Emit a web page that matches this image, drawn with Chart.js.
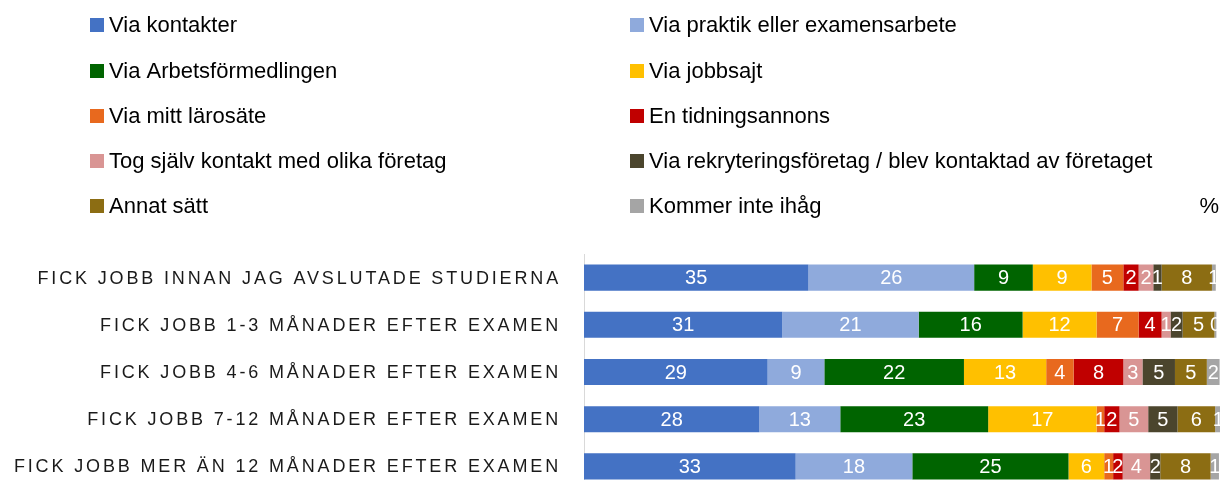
<!DOCTYPE html>
<html>
<head>
<meta charset="utf-8">
<script src="https://cdn.jsdelivr.net/npm/chart.js@4/dist/chart.umd.min.js"></script>
<style>
  html, body { margin: 0; padding: 0; background: #fff; overflow: hidden; }
  #wrap { width: 1230px; height: 490px; }
</style>
</head>
<body>
<div id="wrap"><canvas id="jobChart" width="1230" height="490"></canvas></div>
<script>
// categories (top to bottom)
const categories = [
  'FICK JOBB INNAN JAG AVSLUTADE STUDIERNA',
  'FICK JOBB 1-3 MÅNADER EFTER EXAMEN',
  'FICK JOBB 4-6 MÅNADER EFTER EXAMEN',
  'FICK JOBB 7-12 MÅNADER EFTER EXAMEN',
  'FICK JOBB MER ÄN 12 MÅNADER EFTER EXAMEN'
];

const seriesNames = [
  'Via kontakter',
  'Via praktik eller examensarbete',
  'Via Arbetsförmedlingen',
  'Via jobbsajt',
  'Via mitt lärosäte',
  'En tidningsannons',
  'Tog själv kontakt med olika företag',
  'Via rekryteringsföretag / blev kontaktad av företaget',
  'Annat sätt',
  'Kommer inte ihåg'
];

const seriesColors = [
  '#4472C4', '#8FAADC', '#006400', '#FFC000', '#E8691E',
  '#C00000', '#D99594', '#4B452D', '#8C6D13', '#A5A5A5'
];

// percent values per series, one per category (labels show rounded values)
const viaKontakter   = [35.2, 31.1, 28.8, 27.5, 33.2];
const viaPraktik     = [26.0, 21.4, 8.9, 12.7, 18.3];
const viaAF          = [9.2, 16.3, 21.9, 23.2, 24.5];
const viaJobbsajt    = [9.2, 11.6, 12.9, 17.0, 5.6];
const viaLarosate    = [5.0, 6.6, 4.3, 1.2, 1.4];
const tidningsannons = [2.4, 3.6, 7.8, 2.4, 1.5];
const togSjalv       = [2.3, 1.4, 3.0, 4.5, 4.3];
const viaRekrytering = [1.3, 1.9, 5.1, 4.6, 1.6];
const annatSatt      = [7.9, 5.0, 5.0, 5.9, 7.9];
const kommerInte     = [0.6, 0.3, 2.0, 1.0, 1.3];

const seriesValues = [viaKontakter, viaPraktik, viaAF, viaJobbsajt, viaLarosate,
  tidningsannons, togSjalv, viaRekrytering, annatSatt, kommerInte];

const FONT = '"Liberation Sans", Arial, sans-serif';

// legend, category labels, value labels
const overlay = {
  id: 'overlay',
  afterDatasetsDraw(chart) {
    const ctx = chart.ctx;
    ctx.save();
    // value labels
    ctx.font = '20px ' + FONT;
    ctx.fillStyle = '#ffffff';
    ctx.textAlign = 'center';
    ctx.textBaseline = 'middle';
    chart.data.datasets.forEach((ds, i) => {
      chart.getDatasetMeta(i).data.forEach((bar, j) => {
        const x = (bar.x + bar.base) / 2;
        ctx.fillText(String(Math.round(ds.data[j])), x, bar.y + 1);
      });
    });
    ctx.restore();
  },
  afterDraw(chart) {
    const ctx = chart.ctx;
    const yScale = chart.scales.y;
    ctx.save();
    // legend in two columns
    ctx.font = '22px ' + FONT;
    ctx.textBaseline = 'middle';
    ctx.textAlign = 'left';
    const rowY = [25, 71, 116, 161, 206];
    const colX = [90, 630];
    chart.data.datasets.forEach((ds, i) => {
      const cx = colX[i % 2];
      const cy = rowY[Math.floor(i / 2)];
      ctx.fillStyle = ds.backgroundColor;
      ctx.fillRect(cx, cy - 7, 14, 14);
      ctx.fillStyle = '#000000';
      ctx.fillText(ds.label, cx + 19, cy + 1);
    });
    ctx.textAlign = 'right';
    ctx.fillText('%', 1219, 207);

    // category labels, letter spaced
    ctx.font = '18px ' + FONT;
    ctx.fillStyle = '#1a1a1a';
    ctx.letterSpacing = '2.85px';
    ctx.textAlign = 'right';
    categories.forEach((c, j) => {
      ctx.fillText(c, 561, yScale.getPixelForValue(j) + 1);
    });
    ctx.restore();
  }
};

const ctx = document.getElementById('jobChart').getContext('2d');
new Chart(ctx, {
  type: 'bar',
  data: {
    labels: categories,
    datasets: seriesNames.map((name, i) => ({
      label: name,
      data: seriesValues[i],
      backgroundColor: seriesColors[i],
      borderWidth: 0,
      categoryPercentage: 1,
      barPercentage: 0.553
    }))
  },
  options: {
    indexAxis: 'y',
    responsive: false,
    devicePixelRatio: 1,
    animation: false,
    layout: { padding: { left: 584, right: 8.5, top: 254, bottom: 0 } },
    plugins: { legend: { display: false }, tooltip: { enabled: false } },
    scales: {
      x: { stacked: true, display: false, min: 0, max: 100 },
      y: {
        stacked: true,
        ticks: { display: false },
        grid: { display: false },
        border: { display: true, color: '#d9d9d9', width: 1 },
        afterFit(scale) { scale.width = 0; }
      }
    }
  },
  plugins: [overlay]
});
</script>
</body>
</html>
